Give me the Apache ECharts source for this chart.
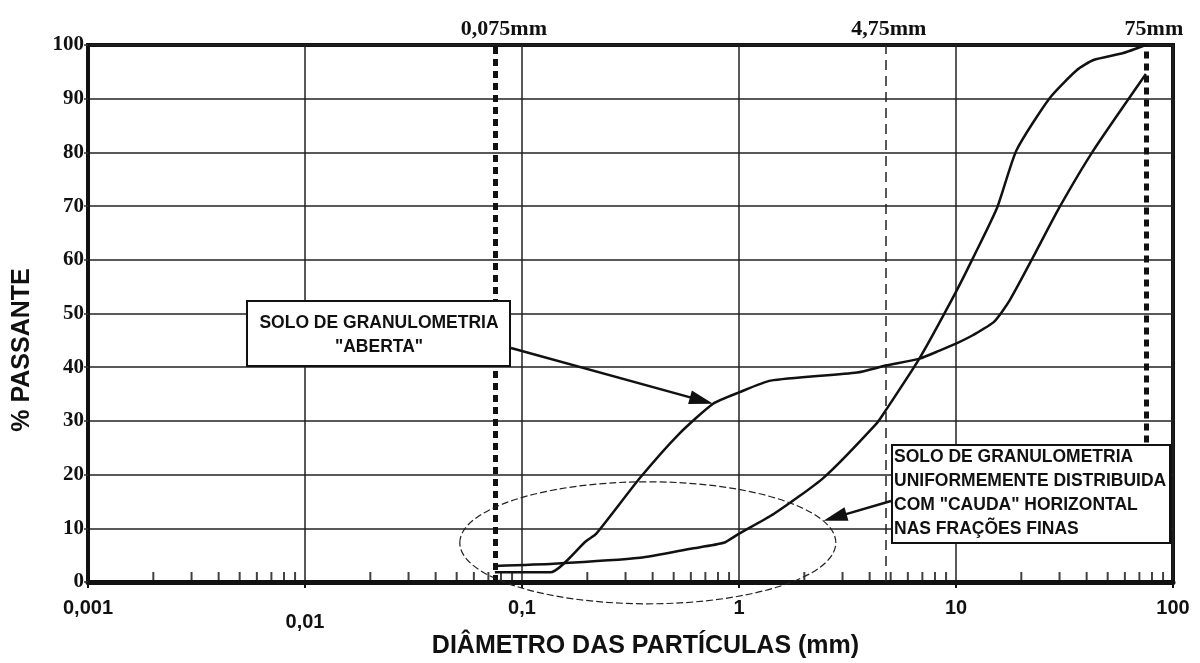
<!DOCTYPE html>
<html>
<head>
<meta charset="utf-8">
<title>Curva granulométrica</title>
<script src="https://cdn.jsdelivr.net/npm/echarts@6/dist/echarts.min.js"></script>
<style>
  html, body { margin: 0; padding: 0; background: #fff; }
  #chart { width: 1200px; height: 663px; }
</style>
</head>
<body>
<div id="chart"></div>
<script>
// curva "aberta" (sobe cedo, patamar ~35-45%)
var abertaX = [0.075, 0.135, 0.197, 0.22, 0.35, 0.53, 0.76, 1.0, 1.4, 3.5, 4.75, 6.8, 8.4, 10, 12, 15, 17.7, 22.6, 30, 42.7, 75];
var abertaY = [1.8, 1.8, 7.6, 9.0, 19.4, 27.6, 33.2, 35.3, 37.5, 39.0, 40.3, 41.6, 43.1, 44.4, 46.0, 48.5, 52.5, 60.4, 69.8, 80.2, 94.6];
// curva uniformemente distribuida
var uniformeX = [0.075, 0.14, 0.35, 0.6, 0.85, 1.0, 1.45, 2.45, 4.3, 4.75, 6.8, 9.9, 12, 15.5, 19, 27, 36, 43, 59, 75];
var uniformeY = [3.0, 3.4, 4.5, 6.2, 7.3, 9.0, 12.7, 19.4, 29.5, 32.0, 41.7, 53.7, 60.4, 69.8, 80.4, 90.1, 95.3, 97.2, 98.5, 100];

var xTickLabels = ['0,001', '0,01', '0,1', '1', '10', '100'];
var decades = [0.001, 0.01, 0.1, 1, 10];
var minorSteps = [2, 3, 4, 5, 6, 7, 8, 9];

// peneiras de referencia
var sieveValues = [0.075, 4.75, 75];
var sieveLabels = ['0,075mm', '4,75mm', '75mm'];
var sieveBottom = [0, 0, 26];

// ancoras das anotacoes (coordenadas de dados)
var ellipseCenter = [0.38, 7.3];
var arrowAbertaTip = [0.76, 33.2];
var arrowUniformeTip = [2.45, 11.4];

function pairs(xs, ys) {
  return xs.map(function (x, i) { return [x, ys[i]]; });
}

var minorTicks = [];
decades.forEach(function (d) {
  minorSteps.forEach(function (s) { minorTicks.push([d * s, 0]); });
});

var sansBold = { fontFamily: 'Liberation Sans, Arial, sans-serif', fontWeight: 'bold', color: '#111' };
var serifBold = { fontFamily: 'Liberation Serif, Times New Roman, serif', fontWeight: 'bold', color: '#111' };

var sieveStyles = [
  { color: '#111', width: 5, type: [7, 5] },
  { color: '#222', width: 1.5, type: [10, 6] },
  { color: '#111', width: 5, type: [7, 5] }
];
var sieveLabelOffset = [[9, 0], [3, 0], [8, 0]];

var markData = sieveValues.map(function (v, i) {
  return [
    {
      coord: [v, sieveBottom[i]],
      lineStyle: sieveStyles[i],
      label: Object.assign({
        show: true, position: 'end', formatter: sieveLabels[i],
        fontSize: 22, distance: 5, offset: sieveLabelOffset[i]
      }, serifBold)
    },
    { coord: [v, 100] }
  ];
});

var chart = echarts.init(document.getElementById('chart'), null, { renderer: 'canvas' });

var option = {
  backgroundColor: '#fff',
  animation: false,
  grid: {
    left: 88, right: 27, top: 45, bottom: 81,
    outerBoundsMode: 'none',
    containLabel: false,
    show: true, borderColor: '#111', borderWidth: 4, backgroundColor: 'transparent'
  },
  xAxis: {
    type: 'log',
    logBase: 10,
    min: 0.001,
    max: 100,
    name: 'DIÂMETRO DAS PARTÍCULAS (mm)',
    nameLocation: 'middle',
    nameGap: 52,
    nameMoveOverlap: false,
    nameTextStyle: Object.assign({ fontSize: 25, padding: [0, 0, 0, 30] }, sansBold),
    axisLine: { show: true, lineStyle: { color: '#111', width: 5 } },
    axisTick: { show: true, length: 6, lineStyle: { color: '#111', width: 2 } },
    axisLabel: Object.assign({
      fontSize: 20,
      margin: 16,
      formatter: function (v) {
        var k = Math.round(Math.log10(v)) + 3;
        var s = xTickLabels[k] || '';
        return k === 1 ? '{low|' + s + '}' : s;
      },
      rich: {
        low: Object.assign({ fontSize: 20, padding: [14, 0, 0, 0] }, sansBold)
      }
    }, sansBold),
    splitLine: { show: true, lineStyle: { color: '#222', width: 1.5 } },
    minorTick: { show: false },
    minorSplitLine: { show: false }
  },
  yAxis: {
    type: 'value',
    min: 0,
    max: 100,
    interval: 10,
    axisLine: { show: true, lineStyle: { color: '#111', width: 4 } },
    axisTick: { show: true, length: 4, lineStyle: { color: '#333', width: 1.5 } },
    axisLabel: Object.assign({ fontSize: 21, margin: 4 }, serifBold),
    splitLine: { show: true, lineStyle: { color: '#222', width: 1.5 } }
  },
  series: [
    {
      name: 'Aberta',
      type: 'line',
      data: pairs(abertaX, abertaY),
      showSymbol: false,
      smooth: 0.2,
      lineStyle: { color: '#111', width: 2.5 },
      z: 5,
      markLine: {
        silent: true,
        symbol: ['none', 'none'],
        data: markData,
        z: 4
      }
    },
    {
      name: 'Uniforme',
      type: 'line',
      data: pairs(uniformeX, uniformeY),
      showSymbol: false,
      smooth: 0.2,
      lineStyle: { color: '#111', width: 2.5 },
      z: 5
    },
    {
      name: 'minor',
      type: 'scatter',
      data: minorTicks,
      symbol: 'rect',
      symbolSize: [2, 10],
      symbolOffset: [0, -5],
      itemStyle: { color: '#111' },
      silent: true,
      clip: false,
      z: 3
    }
  ]
};

chart.setOption(option);

// anotacoes: caixas, setas e elipse
function arrow(start, tip) {
  var dx = tip[0] - start[0], dy = tip[1] - start[1];
  var len = Math.sqrt(dx * dx + dy * dy);
  var ux = dx / len, uy = dy / len;
  var nx = -uy, ny = ux;
  var L = 24, W = 7;
  var bx = tip[0] - ux * L, by = tip[1] - uy * L;
  return [
    { type: 'line', z: 20, shape: { x1: start[0], y1: start[1], x2: bx + ux * 4, y2: by + uy * 4 },
      style: { stroke: '#111', lineWidth: 2.5 } },
    { type: 'polygon', z: 20, shape: { points: [tip, [bx + nx * W, by + ny * W], [bx - nx * W, by - ny * W]] },
      style: { fill: '#111' } }
  ];
}

var c = chart.convertToPixel({ gridIndex: 0 }, ellipseCenter);
var t1 = chart.convertToPixel({ gridIndex: 0 }, arrowAbertaTip);
var t2 = chart.convertToPixel({ gridIndex: 0 }, arrowUniformeTip);

var boxFont = 'bold 17.5px "Liberation Sans", Arial, sans-serif';
var graphics = [
  { type: 'text', z: 19, x: 22, y: 350, rotation: Math.PI / 2,
    style: { text: '% PASSANTE', font: 'bold 25px "Liberation Sans", Arial, sans-serif', fill: '#111',
      align: 'center', verticalAlign: 'middle' } },
  { type: 'ellipse', z: 15, shape: { cx: c[0], cy: c[1], rx: 188, ry: 61 },
    style: { fill: 'none', stroke: '#222', lineWidth: 1.2, lineDash: [7, 3] } },
  { type: 'rect', z: 18, shape: { x: 247, y: 301, width: 263, height: 65 },
    style: { fill: '#fff', stroke: '#111', lineWidth: 2 } },
  { type: 'text', z: 19, x: 379, y: 323,
    style: { text: 'SOLO DE GRANULOMETRIA', font: boxFont, fill: '#111', align: 'center', verticalAlign: 'middle' } },
  { type: 'text', z: 19, x: 379, y: 347,
    style: { text: '"ABERTA"', font: boxFont, fill: '#111', align: 'center', verticalAlign: 'middle' } },
  { type: 'rect', z: 18, shape: { x: 892, y: 445, width: 278, height: 98 },
    style: { fill: '#fff', stroke: '#111', lineWidth: 2 } },
  { type: 'text', z: 19, x: 894, y: 457,
    style: { text: 'SOLO DE GRANULOMETRIA', font: boxFont, fill: '#111', align: 'left', verticalAlign: 'middle' } },
  { type: 'text', z: 19, x: 894, y: 481,
    style: { text: 'UNIFORMEMENTE DISTRIBUIDA', font: boxFont, fill: '#111', align: 'left', verticalAlign: 'middle' } },
  { type: 'text', z: 19, x: 894, y: 505,
    style: { text: 'COM "CAUDA" HORIZONTAL', font: boxFont, fill: '#111', align: 'left', verticalAlign: 'middle' } },
  { type: 'text', z: 19, x: 894, y: 529,
    style: { text: 'NAS FRAÇÕES FINAS', font: boxFont, fill: '#111', align: 'left', verticalAlign: 'middle' } }
];
graphics = graphics.concat(arrow([511, 348], t1), arrow([891, 501], t2));

chart.setOption({ graphic: graphics });
</script>
</body>
</html>
